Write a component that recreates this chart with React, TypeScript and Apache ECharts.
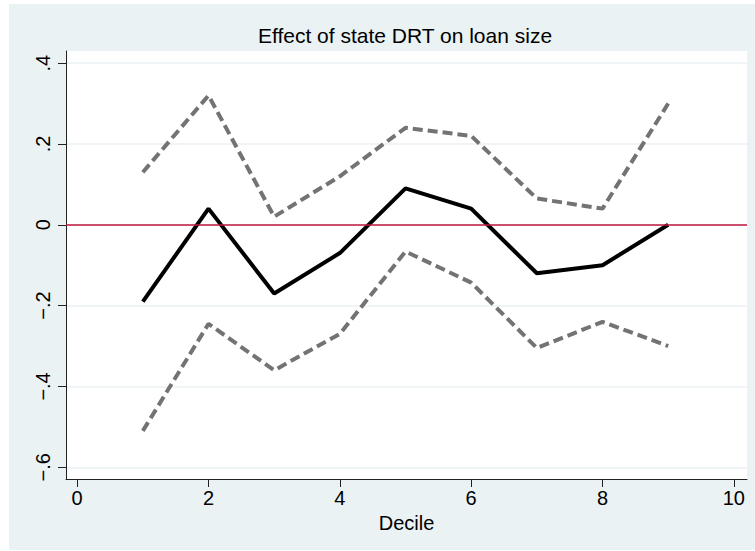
import React, { useEffect, useRef } from "react";
import * as echarts from "echarts";

const deciles = [1, 2, 3, 4, 5, 6, 7, 8, 9];
const estimate = [-0.19, 0.04, -0.17, -0.07, 0.09, 0.04, -0.12, -0.1, 0.0];
const upperCI = [0.13, 0.32, 0.02, 0.12, 0.24, 0.22, 0.065, 0.04, 0.3];
const lowerCI = [-0.51, -0.245, -0.36, -0.27, -0.066, -0.143, -0.305, -0.24, -0.3];
const xTicks = [0, 2, 4, 6, 8, 10];
const yTicks = [-0.6, -0.4, -0.2, 0, 0.2, 0.4];
const titleText = "Effect of state DRT on loan size";
const xName = "Decile";

const FONT = "'Liberation Sans', Arial, Helvetica, sans-serif";

function fmtY(v: number): string {
  if (Math.abs(v) < 1e-9) return "0";
  const s = Math.abs(v).toFixed(1).replace(/^0/, "");
  return (v < 0 ? "\u2212" : "") + s;
}

export default function App() {
  const ref = useRef<HTMLDivElement>(null);
  useEffect(() => {
    if (!ref.current) return;
    const chart = echarts.init(ref.current, null, { renderer: "svg" });
    const pairs = (ys: number[]) => deciles.map((x, i) => [x, ys[i]]);
    chart.setOption({
      animation: false,
      backgroundColor: "#ffffff",
      textStyle: { fontFamily: FONT },
      graphic: [
        {
          type: "rect",
          z: -1,
          shape: { x: 9, y: 4, width: 746, height: 546 },
          style: { fill: "#EAF2F3" },
          silent: true,
        },
        {
          type: "text",
          x: 405,
          y: 35,
          style: {
            text: titleText,
            fontFamily: FONT,
            fontSize: 21,
            fill: "#000",
            textAlign: "center",
            textVerticalAlign: "middle",
          },
        },
      ],
      grid: {
        left: 66,
        right: 8,
        top: 51,
        bottom: 72,
        show: true,
        backgroundColor: "#ffffff",
        borderWidth: 0,
        outerBoundsMode: "none",
        containLabel: false,
      },
      xAxis: {
        type: "value",
        min: -0.17,
        max: 10.2,
        name: xName,
        nameLocation: "middle",
        nameGap: 31,
        nameTextStyle: { fontFamily: FONT, fontSize: 20, color: "#000" },
        axisLine: { show: true, onZero: false, lineStyle: { color: "#222", width: 1 } },
        axisTick: { show: true, length: 8, customValues: xTicks, lineStyle: { color: "#222", width: 1 } },
        axisLabel: {
          customValues: xTicks,
          fontFamily: FONT,
          fontSize: 20,
          color: "#000",
          margin: 9,
          formatter: (v: number) => String(v),
        },
        splitLine: { show: false },
      },
      yAxis: {
        type: "value",
        min: -0.629,
        max: 0.43,
        axisLine: { show: true, onZero: false, lineStyle: { color: "#222", width: 1 } },
        axisTick: { show: true, length: 8, customValues: yTicks, lineStyle: { color: "#222", width: 1 } },
        axisLabel: {
          customValues: yTicks,
          rotate: 90,
          fontFamily: FONT,
          fontSize: 20,
          color: "#000",
          margin: 13,
          formatter: (v: number) => fmtY(v),
        },
        splitLine: { show: true, lineStyle: { color: "#EAF2F3", width: 1.5 } },
      },
      series: [
        {
          type: "line",
          data: [],
          silent: true,
          z: 1,
          markLine: {
            silent: true,
            symbol: "none",
            label: { show: false },
            lineStyle: { color: "#C0173F", width: 1.5, type: "solid" },
            data: [{ yAxis: 0 }],
          },
        },
        {
          type: "line",
          data: pairs(upperCI),
          symbol: "none",
          z: 2,
          lineStyle: { color: "#737373", width: 4, type: [10, 5] },
        },
        {
          type: "line",
          data: pairs(lowerCI),
          symbol: "none",
          z: 2,
          lineStyle: { color: "#737373", width: 4, type: [10, 5] },
        },
        {
          type: "line",
          data: pairs(estimate),
          symbol: "none",
          z: 3,
          lineStyle: { color: "#000000", width: 4 },
        },
      ],
    });
    return () => chart.dispose();
  }, []);
  return (
    <div
      ref={ref}
      style={{ position: "absolute", left: 0, top: 0, width: 755, height: 551 }}
    />
  );
}
